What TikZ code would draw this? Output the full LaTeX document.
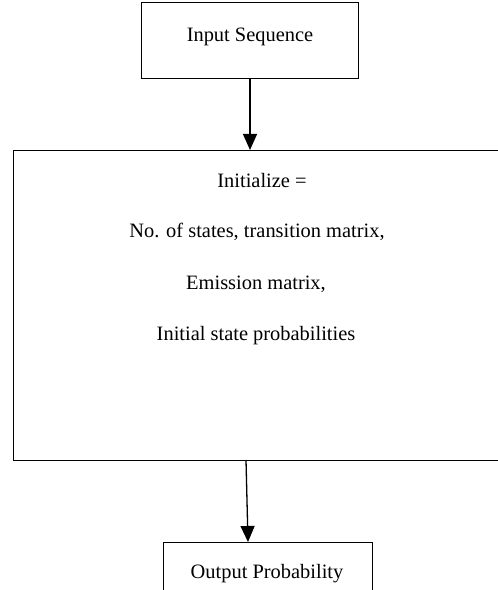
\documentclass[tikz,border=0pt]{standalone}
\usepackage{fontspec}
\setmainfont{Liberation Serif}
\usetikzlibrary{arrows.meta}

\begin{document}
\begin{tikzpicture}[x=1bp,y=-1bp,
  box/.style={draw, line width=1.3bp, inner sep=0pt, anchor=north west},
  lbl/.style={font=\fontsize{20.5}{24}\selectfont, inner sep=0pt},
  arr/.style={line width=1.3bp, -{Triangle[width=14bp,length=16bp]}}]
  \useasboundingbox (0,0) rectangle (498,590);

  % input box
  \node[box, minimum width=217bp, minimum height=76bp] (input) at (141,2) {};
  \node[lbl] (inputtxt) at (250,37) {Input Sequence};

  % initialization box (right side runs past the page edge)
  \node[box, minimum width=490bp, minimum height=310bp] (init) at (13,150) {};
  \node[lbl] (l1) at (262,181) {Initialize =};
  \node[lbl] (l2) at (257,232) {No. of states, transition matrix,};
  \node[lbl] (l3) at (256,284) {Emission matrix,};
  \node[lbl] (l4) at (256,336) {Initial state probabilities};

  % output box (lower side runs past the page edge)
  \node[box, minimum width=209bp, minimum height=70bp] (output) at (163,542) {};
  \node[lbl] (outtxt) at (267,574) {Output Probability};

  % connectors
  \coordinate (a1) at (input.south -| 250,0);
  \draw[arr] (a1) -- (a1 |- init.north);
  \coordinate (a2) at (246,460);
  \coordinate (b2) at (248,542);
  \draw[arr] (a2) -- (b2);
\end{tikzpicture}
\end{document}
